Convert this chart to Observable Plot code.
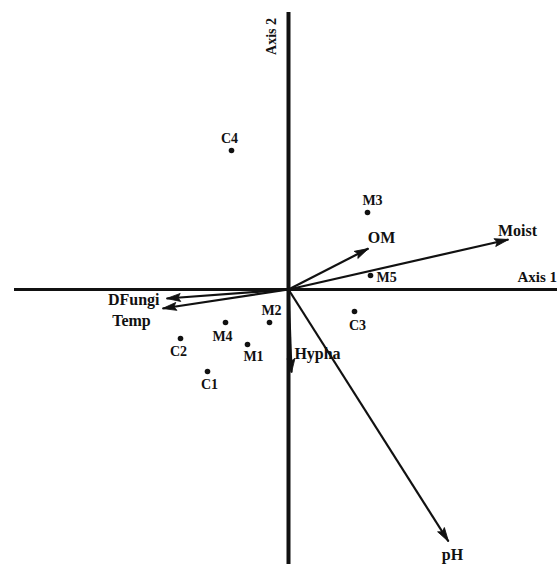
<!DOCTYPE html>
<html>
<head>
<meta charset="utf-8">
<script src="https://cdn.jsdelivr.net/npm/d3@7"></script>
<script src="https://cdn.jsdelivr.net/npm/@observablehq/plot@0.6"></script>
<style>
  html, body { margin: 0; padding: 0; background: #fff; }
  #chart { width: 557px; height: 564px; overflow: hidden; }
  svg { display: block; }
</style>
</head>
<body>
<div id="chart"></div>
<script>
// Site scores on the first two ordination axes
const siteNames = ["C1", "C2", "C3", "C4", "M1", "M2", "M3", "M4", "M5"];
const siteAxis1 = [-0.81, -1.08, 0.66, -0.57, -0.41, -0.19, 0.79, -0.63, 0.82];
const siteAxis2 = [-0.82, -0.49, -0.22, 1.39, -0.55, -0.33, 0.77, -0.33, 0.14];

// Environmental variable biplot arrows
const varNames = ["Moist", "OM", "pH", "Hypha", "DFungi", "Temp"];
const varAxis1 = [2.20, 0.80, 1.60, 0.03, -1.22, -1.26];
const varAxis2 = [0.50, 0.41, -2.52, -0.83, -0.09, -0.19];

// Extent of the drawn axis lines
const axis1Extent = [-2.74, 2.69];
const axis2Extent = [-2.75, 2.77];

const sites = siteNames.map((name, i) => ({ name, x: siteAxis1[i], y: siteAxis2[i] }));
// Heading of each arrow (degrees clockwise from up); x and y share the same px per unit
const vars = varNames.map((name, i) => ({
  name, x: varAxis1[i], y: varAxis2[i],
  angle: Math.atan2(varAxis1[i], varAxis2[i]) * 180 / Math.PI
}));

// Label placement relative to each point / arrow tip
const siteLabelOffset = {
  C1: [2, 13, "middle"], C2: [-2, 13, "middle"], C3: [3, 14, "middle"],
  C4: [-2, -12, "middle"], M1: [6, 12, "middle"], M2: [2, -12, "middle"],
  M3: [5, -12, "middle"], M4: [-3, 14, "middle"], M5: [6, 2, "start"]
};
const varLabelOffset = {
  Moist: [9, -9, "middle"], OM: [13, -11, "middle"], pH: [4, 13, "middle"],
  Hypha: [26, -19, "middle"], DFungi: [-7, 1, "end"], Temp: [-31, 12, "middle"]
};

const font = "'Liberation Serif', 'DejaVu Serif', serif";

// Slim filled arrowhead with its tip at the symbol origin, pointing up
const headSymbol = {
  draw(context, size) {
    const r = Math.sqrt(size / Math.PI);
    context.moveTo(0, 0);
    context.lineTo(0.8 * r, 2.8 * r);
    context.lineTo(0, 2.3 * r);
    context.lineTo(-0.8 * r, 2.8 * r);
    context.closePath();
  }
};

const labelMarks = (data, offsets, size) =>
  data.map(d => Plot.text([d], {
    x: "x", y: "y", text: "name",
    dx: offsets[d.name][0], dy: offsets[d.name][1], textAnchor: offsets[d.name][2],
    fontSize: size, fontWeight: "bold", fontFamily: font, fill: "#111"
  }));

const chart = Plot.plot({
  width: 557,
  height: 564,
  margin: 0,
  style: { fontFamily: font, background: "#fff", overflow: "hidden" },
  x: { domain: [-2.88, 2.69], axis: null },
  y: { domain: [-2.75, 2.89], axis: null },
  marks: [
    // Ordination axes
    Plot.ruleY([0], { x1: axis1Extent[0], x2: axis1Extent[1], stroke: "#111", strokeWidth: 3 }),
    Plot.ruleX([0], { y1: axis2Extent[0], y2: axis2Extent[1], stroke: "#111", strokeWidth: 4 }),
    Plot.text(["Axis 2"], {
      x: 0, y: axis2Extent[1], dx: -17, dy: 24, rotate: -90,
      fontSize: 14, fontWeight: "bold", fontFamily: font, fill: "#111"
    }),
    Plot.text(["Axis 1"], {
      x: axis1Extent[1], y: 0, dx: -40, dy: -12, textAnchor: "start",
      fontSize: 15, fontWeight: "bold", fontFamily: font, fill: "#111"
    }),
    // Environmental arrows from the origin
    Plot.link(vars, {
      x1: 0, y1: 0, x2: "x", y2: "y",
      stroke: "#111", strokeWidth: 2.2
    }),
    Plot.dot(vars, {
      x: "x", y: "y", rotate: "angle", symbol: headSymbol, r: 5,
      fill: "#111", stroke: "#111", strokeWidth: 0.8
    }),
    ...labelMarks(vars, varLabelOffset, 16),
    // Sites
    Plot.dot(sites, { x: "x", y: "y", r: 2.8, fill: "#111", stroke: "none" }),
    ...labelMarks(sites, siteLabelOffset, 14)
  ]
});

document.getElementById("chart").append(chart);
</script>
</body>
</html>
